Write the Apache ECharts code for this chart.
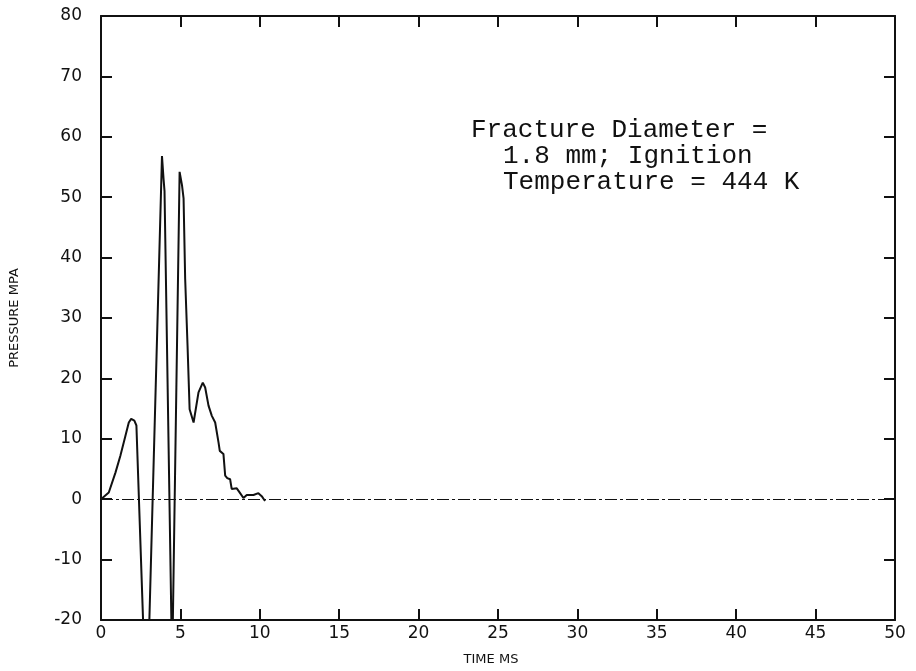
<!DOCTYPE html>
<html>
<head>
<meta charset="utf-8">
<script src="https://cdn.jsdelivr.net/npm/echarts@6/dist/echarts.min.js"></script>
<style>
html,body{margin:0;padding:0;background:#fff;}
#chart{width:916px;height:671px;}
</style>
</head>
<body>
<div id="chart"></div>
<script>
// Data (time in ms, pressure in MPa)
var timeMs = [0, 0.07, 0.49, 0.91, 1.22, 1.54, 1.75, 1.9, 2.1, 2.23, 2.87, 3.84, 3.94, 4.0, 4.48, 4.95, 5.1, 5.2, 5.3, 5.45, 5.58, 5.83, 6.14, 6.41, 6.56, 6.77, 6.98, 7.19, 7.4, 7.48, 7.71, 7.82, 7.95, 8.13, 8.23, 8.55, 8.76, 8.97, 9.18, 9.6, 9.91, 10.12, 10.33];
var pressureMPa = [0, 0, 1.1, 4.4, 7.2, 10.5, 12.7, 13.3, 13.0, 12.2, -37, 56.8, 53, 51, -28, 54.2, 52, 49.8, 36.5, 25.4, 14.9, 12.7, 17.7, 19.3, 18.5, 15.5, 13.8, 12.7, 9.4, 8.0, 7.5, 3.9, 3.5, 3.3, 1.7, 1.8, 1.0, 0.2, 0.7, 0.7, 1.0, 0.5, -0.3];
var xTicks = {min: 0, max: 50, step: 5};
var yTicks = {min: -20, max: 80, step: 10};
var xName = 'TIME MS';
var yName = 'PRESSURE MPA';
var noteLines = ['Fracture Diameter =', '1.8 mm; Ignition', 'Temperature = 444 K'];

var chart = echarts.init(document.getElementById('chart'));
var pts = timeMs.map(function (t, i) { return [t, pressureMPa[i]]; });
var labelFont = {color: '#111', fontFamily: 'DejaVu Sans', fontSize: 17};
var axisLineStyle = {color: '#111', width: 2};

chart.setOption({
  backgroundColor: '#fff',
  animation: false,
  grid: {left: 100, right: 21, top: 16, bottom: 51},
  xAxis: [{
    type: 'value', min: xTicks.min, max: xTicks.max, interval: xTicks.step,
    position: 'bottom',
    axisLine: {show: true, onZero: false, lineStyle: axisLineStyle},
    axisTick: {show: true, inside: true, length: 11, lineStyle: {color: '#111', width: 2}},
    axisLabel: Object.assign({margin: 5}, labelFont),
    splitLine: {show: false},
    name: xName, nameLocation: 'middle', nameGap: 33,
    nameTextStyle: {color: '#111', fontFamily: 'DejaVu Sans', fontSize: 13, padding: [0, 14, 0, 0]}
  }, {
    type: 'value', min: xTicks.min, max: xTicks.max, interval: xTicks.step,
    position: 'top',
    axisLine: {show: true, onZero: false, lineStyle: axisLineStyle},
    axisTick: {show: true, inside: true, length: 11, lineStyle: {color: '#111', width: 2}},
    axisLabel: {show: false},
    splitLine: {show: false}
  }],
  yAxis: [{
    type: 'value', min: yTicks.min, max: yTicks.max, interval: yTicks.step,
    position: 'left',
    axisLine: {show: true, onZero: false, lineStyle: axisLineStyle},
    axisTick: {show: true, inside: true, length: 11, lineStyle: {color: '#111', width: 2}},
    axisLabel: Object.assign({margin: 19}, labelFont),
    splitLine: {show: false},
    name: yName, nameLocation: 'middle', nameGap: 80, nameRotate: 90,
    nameTextStyle: {color: '#111', fontFamily: 'DejaVu Sans', fontSize: 13}
  }, {
    type: 'value', min: yTicks.min, max: yTicks.max, interval: yTicks.step,
    position: 'right',
    axisLine: {show: true, onZero: false, lineStyle: axisLineStyle},
    axisTick: {show: true, inside: true, length: 11, lineStyle: {color: '#111', width: 2}},
    axisLabel: {show: false},
    splitLine: {show: false}
  }],
  series: [{
    type: 'line',
    data: pts,
    xAxisIndex: 0, yAxisIndex: 0,
    showSymbol: false,
    clip: true,
    lineStyle: {color: '#111', width: 2},
    markLine: {
      silent: true, symbol: 'none', label: {show: false},
      lineStyle: {color: '#111', width: 1.2, type: [12, 3, 3, 3]},
      data: [{yAxis: 0}]
    }
  }],
  graphic: noteLines.map(function (s, i) {
    return {
      type: 'text',
      left: i === 0 ? 471 : 503,
      top: 117 + i * 26,
      style: {text: s, fill: '#111', font: '26px "Liberation Mono"'}
    };
  })
});
</script>
</body>
</html>
